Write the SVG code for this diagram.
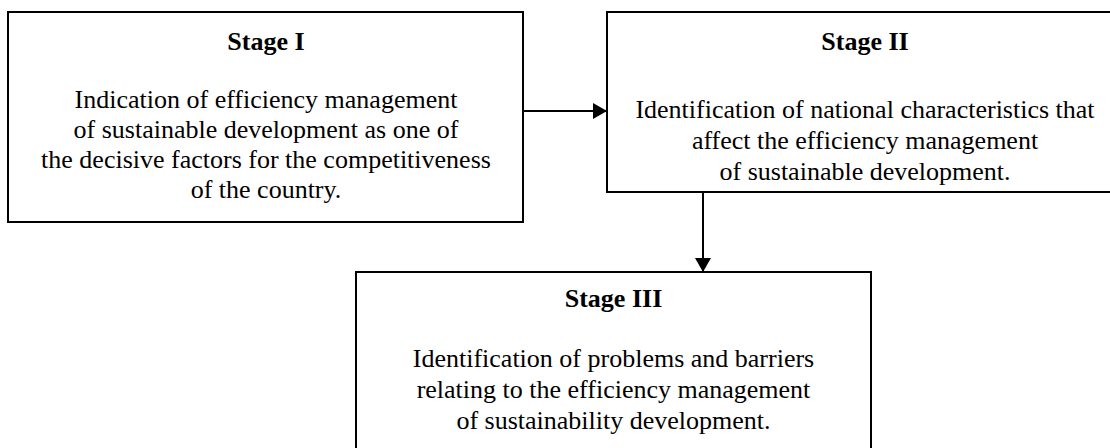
<svg xmlns="http://www.w3.org/2000/svg" width="1110" height="448" viewBox="0 0 1110 448">
<style>
.box{fill:#fff;stroke:#000;stroke-width:2}
.t{font-family:"Liberation Serif","Times New Roman",serif;font-size:26px;fill:#000;text-anchor:middle}
.h{font-weight:bold}
.c{stroke:#000;stroke-width:2;fill:none}
</style>
<defs>
<marker id="ah" markerUnits="userSpaceOnUse" viewBox="0 0 14 16" refX="14" refY="8" markerWidth="14" markerHeight="16" orient="auto">
<path d="M0,0 L14,8 L0,16 Z" fill="#000"/>
</marker>
</defs>
<g id="stage1">
<rect class="box" x="8" y="12" width="515" height="210"/>
<text class="t h" x="266" y="50">Stage I</text>
<text class="t" x="266" y="108">Indication of efficiency management</text>
<text class="t" x="266" y="138">of sustainable development as one of</text>
<text class="t" x="266" y="168">the decisive factors for the competitiveness</text>
<text class="t" x="266" y="198">of the country.</text>
</g>
<g id="stage2">
<rect class="box" x="607" y="12" width="516" height="180"/>
<text class="t h" x="865" y="50">Stage II</text>
<text class="t" x="865" y="118">Identification of national characteristics that</text>
<text class="t" x="865" y="149">affect the efficiency management</text>
<text class="t" x="865" y="180">of sustainable development.</text>
</g>
<g id="stage3">
<rect class="box" x="356" y="272" width="515" height="190"/>
<text class="t h" x="613.5" y="307">Stage III</text>
<text class="t" x="613.5" y="367">Identification of problems and barriers</text>
<text class="t" x="613.5" y="398">relating to the efficiency management</text>
<text class="t" x="613.5" y="429">of sustainability development.</text>
</g>
<g id="connectors">
<line class="c" x1="523" y1="111" x2="607" y2="111" marker-end="url(#ah)"/>
<line class="c" x1="703" y1="192" x2="703" y2="272" marker-end="url(#ah)"/>
</g>
</svg>
